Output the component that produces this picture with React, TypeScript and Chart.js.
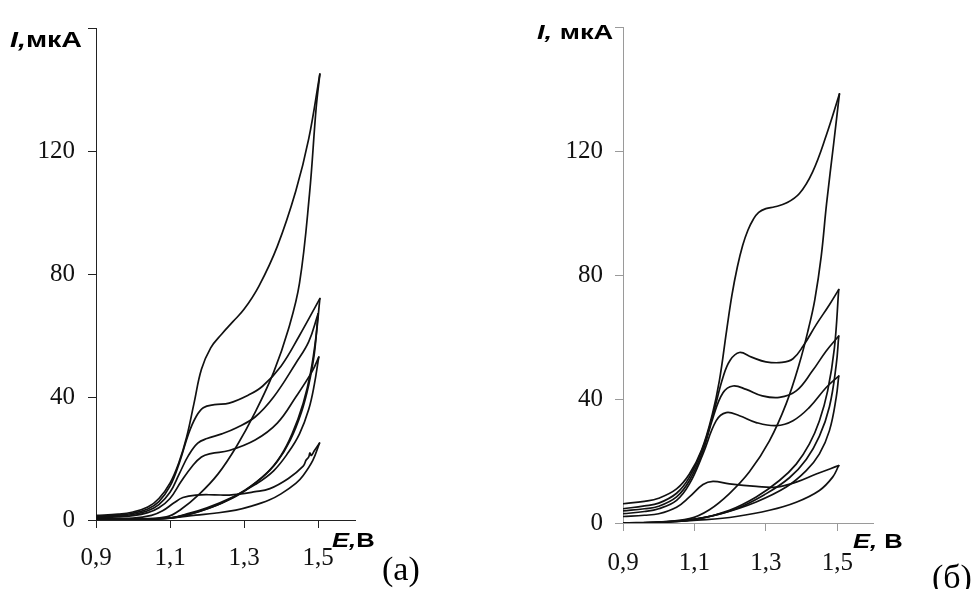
import React, { useEffect, useRef } from 'react';
import { Chart, registerables } from 'chart.js';

Chart.register(...registerables);

type P = [number, number];

// ---------- Panel (а): E (V) vs I (µA) ----------
const aLoop1Fwd: P[] = [[0.9, 1.5], [0.96, 1.9], [1.0, 2.6], [1.04, 4.2], [1.07, 7], [1.1, 12], [1.125, 19], [1.145, 27], [1.165, 38], [1.185, 49], [1.21, 56], [1.24, 60.5], [1.27, 64.5], [1.3, 68.5], [1.34, 76], [1.39, 89], [1.44, 107], [1.475, 124], [1.505, 145]];
const aLoop1Rev: P[] = [[1.505, 145], [1.495, 134], [1.477, 106], [1.45, 77], [1.42, 62], [1.38, 48], [1.33, 35], [1.28, 24], [1.23, 15], [1.18, 8.5], [1.13, 3.5], [1.09, 1], [1.0, 0.3], [0.9, 0.2]];
const aLoop2Fwd: P[] = [[0.9, 1.2], [0.96, 1.6], [1.0, 2.2], [1.04, 3.6], [1.07, 6], [1.1, 11], [1.125, 18.5], [1.15, 28], [1.17, 33.5], [1.19, 36.5], [1.22, 37.5], [1.26, 38], [1.31, 40.5], [1.35, 43.5], [1.4, 50], [1.45, 60], [1.505, 72]];
const aLoop2Rev: P[] = [[1.505, 72], [1.495, 60], [1.48, 48], [1.46, 38], [1.43, 28], [1.4, 21], [1.36, 15], [1.3, 9.5], [1.24, 5.5], [1.18, 2.8], [1.12, 1.0], [1.08, 0.4], [1.0, 0.3], [0.9, 0.3]];
const aLoop3Fwd: P[] = [[0.9, 1.0], [0.96, 1.3], [1.0, 1.8], [1.04, 3], [1.07, 5], [1.1, 9], [1.125, 15], [1.15, 21], [1.175, 25], [1.2, 26.5], [1.24, 28], [1.28, 30], [1.33, 33.5], [1.38, 40], [1.44, 51], [1.475, 58], [1.5, 67]];
const aLoop3Rev: P[] = [[1.5, 67], [1.49, 54], [1.475, 44], [1.455, 35], [1.425, 26], [1.39, 19], [1.35, 14], [1.29, 8.5], [1.23, 5], [1.17, 2.5], [1.11, 0.8], [1.0, 0.3], [0.9, 0.3]];
const aLoop4Fwd: P[] = [[0.9, 0.8], [0.96, 1.0], [1.0, 1.4], [1.04, 2.4], [1.07, 4], [1.1, 7], [1.13, 12.5], [1.16, 17.5], [1.185, 20.5], [1.21, 21.6], [1.26, 22.6], [1.33, 26], [1.39, 31.5], [1.44, 40], [1.485, 48.5], [1.502, 53]];
const aLoop4Rev: P[] = [[1.502, 53], [1.49, 44], [1.475, 36], [1.45, 28], [1.42, 22], [1.38, 16], [1.33, 11.5], [1.27, 7.5], [1.2, 4], [1.14, 1.8], [1.1, 0.6], [1.0, 0.2], [0.9, 0.2]];
const aLoop5Fwd: P[] = [[0.9, 0.4], [1.0, 0.6], [1.05, 1.5], [1.08, 3], [1.11, 5.5], [1.135, 7.3], [1.17, 8.1], [1.22, 8.2], [1.26, 8.1], [1.33, 9.2], [1.37, 10.2], [1.42, 13.5], [1.46, 17.5], [1.468, 19.5], [1.475, 20.5], [1.478, 21.8], [1.482, 21], [1.49, 22.5], [1.504, 25]];
const aLoop5Rev: P[] = [[1.504, 25], [1.486, 19.4], [1.46, 14.5], [1.44, 11.9], [1.4, 8.5], [1.368, 6.5], [1.32, 4.5], [1.278, 3.2], [1.22, 2.2], [1.17, 1.6], [1.098, 0.6], [1.0, 0.3], [0.9, 0.3]];

// ---------- Panel (б) ----------
const bLoop1Fwd: P[] = [[0.9, 6.2], [0.96, 7], [1.0, 8], [1.05, 11], [1.086, 15.8], [1.12, 23.5], [1.15, 35], [1.17, 46], [1.19, 62], [1.205, 73.5], [1.22, 82.5], [1.235, 89.5], [1.25, 94.5], [1.265, 98], [1.28, 100.2], [1.3, 101.4], [1.325, 102], [1.357, 103.2], [1.394, 106.3], [1.431, 113.3], [1.469, 125], [1.506, 138.4]];
const bLoop1Rev: P[] = [[1.506, 138.4], [1.49, 122.5], [1.47, 103], [1.455, 86], [1.437, 72], [1.42, 63], [1.394, 51.5], [1.357, 38.5], [1.31, 26.5], [1.254, 16.5], [1.198, 9.5], [1.142, 4.3], [1.086, 1.4], [1.0, 0.3], [0.9, 0]];
const bLoop2Fwd: P[] = [[0.9, 4.6], [0.96, 5.5], [1.0, 6.4], [1.05, 9.6], [1.086, 14.8], [1.124, 24.4], [1.152, 35], [1.18, 47], [1.2, 52.5], [1.226, 55], [1.26, 53.5], [1.3, 52], [1.345, 51.8], [1.376, 53], [1.404, 57], [1.441, 64], [1.478, 70.4], [1.504, 75.3]];
const bLoop2Rev: P[] = [[1.504, 75.3], [1.492, 56.5], [1.473, 42.6], [1.45, 33], [1.422, 25.5], [1.385, 19], [1.338, 13.7], [1.273, 8.4], [1.198, 4.1], [1.114, 1.4], [1.0, 0.2], [0.9, 0]];
const bLoop3Fwd: P[] = [[0.9, 3.9], [0.96, 4.6], [1.0, 5.4], [1.05, 8.4], [1.086, 13.7], [1.124, 23.3], [1.152, 34], [1.18, 42], [1.208, 44.2], [1.245, 43.1], [1.29, 41], [1.338, 40.5], [1.385, 42.6], [1.43, 49], [1.469, 55.5], [1.504, 60.3]];
const bLoop3Rev: P[] = [[1.504, 60.3], [1.497, 51], [1.478, 37.5], [1.45, 28], [1.413, 20.5], [1.366, 14.6], [1.3, 9.4], [1.217, 4.6], [1.124, 1.7], [1.0, 0.2], [0.9, 0]];
const bLoop4Fwd: P[] = [[0.9, 3.0], [0.96, 3.7], [1.0, 4.6], [1.05, 7.3], [1.086, 12.6], [1.124, 22.3], [1.161, 33], [1.189, 35.6], [1.226, 34.6], [1.273, 32.4], [1.329, 31.4], [1.376, 33], [1.422, 37.3], [1.469, 43.7], [1.504, 47.4]];
const bLoop4Rev: P[] = [[1.504, 47.4], [1.497, 40.5], [1.478, 29.8], [1.45, 22.3], [1.413, 16.9], [1.357, 11.6], [1.273, 6.8], [1.18, 3.2], [1.086, 0.9], [1.0, 0.2], [0.9, 0]];
const bLoop5Fwd: P[] = [[0.9, 2.1], [0.96, 2.5], [1.0, 3.0], [1.05, 5.1], [1.086, 8.4], [1.124, 12.4], [1.152, 13.4], [1.198, 12.6], [1.273, 11.8], [1.329, 11.6], [1.385, 13.2], [1.441, 15.8], [1.504, 18.5]];
const bLoop5Rev: P[] = [[1.504, 18.5], [1.487, 14.8], [1.45, 10.5], [1.385, 6.7], [1.31, 4.1], [1.217, 2.1], [1.133, 1.1], [1.0, 0.3], [0.9, 0]];

// ---------- Axes ----------
const xMin = 0.9;
const xMax = 1.6;
const yMin = 0;
const yMax = 160;
const xTicks = [0.9, 1.1, 1.3, 1.5];
const xTickLabels = ['0,9', '1,1', '1,3', '1,5'];
const yTicks = [0, 40, 80, 120, 160];
const yTickLabels = ['0', '40', '80', '120', ''];

type TitlePart = { text: string; italic: boolean };

interface PanelSpec {
  left: number;
  curves: P[][];
  axisColor: string;
  yAxisWidth: number;
  xAxisHeight: number;
  padTop: number;
  padRight: number;
  yTickPad: number;
  xTickPad: number;
  yTitle: TitlePart[];
  xTitle: TitlePart[];
  tag: string;
  titleSize: number;
  yTitlePos: [number, number];
  xTitlePos: [number, number];
  tagPos: [number, number];
}

const panels: PanelSpec[] = [
  {
    left: 0,
    curves: [aLoop1Fwd, aLoop1Rev, aLoop2Fwd, aLoop2Rev, aLoop3Fwd, aLoop3Rev, aLoop4Fwd, aLoop4Rev, aLoop5Fwd, aLoop5Rev],
    axisColor: '#222',
    yAxisWidth: 96,
    xAxisHeight: 69,
    padTop: 25,
    padRight: 132,
    yTickPad: 13,
    xTickPad: 15,
    yTitle: [{ text: 'I,', italic: true }, { text: 'мкА', italic: false }],
    xTitle: [{ text: 'E,', italic: true }, { text: 'В', italic: false }],
    tag: '(а)',
    titleSize: 22,
    yTitlePos: [-86, 19],
    xTitlePos: [-23, 27],
    tagPos: [27, 60],
  },
  {
    left: 487,
    curves: [bLoop1Fwd, bLoop1Rev, bLoop2Fwd, bLoop2Rev, bLoop3Fwd, bLoop3Rev, bLoop4Fwd, bLoop4Rev, bLoop5Fwd, bLoop5Rev],
    axisColor: '#9a9a9a',
    yAxisWidth: 136,
    xAxisHeight: 66,
    padTop: 25,
    padRight: 101,
    yTickPad: 12,
    xTickPad: 17,
    yTitle: [{ text: 'I, ', italic: true }, { text: 'мкА', italic: false }],
    xTitle: [{ text: 'E, ', italic: true }, { text: 'В', italic: false }],
    tag: '(б)',
    titleSize: 21,
    yTitlePos: [-86, 12],
    xTitlePos: [-20, 25],
    tagPos: [59, 65],
  },
];

function drawTitle(ctx: CanvasRenderingContext2D, parts: TitlePart[], x: number, y: number, size: number, stretch: number) {
  ctx.save();
  ctx.translate(x, y);
  ctx.scale(stretch, 1);
  ctx.textBaseline = 'alphabetic';
  ctx.textAlign = 'left';
  ctx.fillStyle = '#000';
  let cx = 0;
  for (const p of parts) {
    ctx.font = `${p.italic ? 'italic ' : ''}bold ${size}px "Liberation Sans", Arial, sans-serif`;
    ctx.fillText(p.text, cx, 0);
    cx += ctx.measureText(p.text).width;
  }
  ctx.restore();
}

function makeLabelPlugin(spec: PanelSpec) {
  return {
    id: 'panelLabels',
    afterDraw(chart: Chart) {
      const { ctx, chartArea: ca } = chart;
      drawTitle(ctx, spec.yTitle, ca.left + spec.yTitlePos[0], ca.top + spec.yTitlePos[1], spec.titleSize, 1.3);
      drawTitle(ctx, spec.xTitle, ca.right + spec.xTitlePos[0], ca.bottom + spec.xTitlePos[1], 21, 1.22);
      ctx.save();
      ctx.font = '34px "Liberation Serif", "Times New Roman", serif';
      ctx.fillStyle = '#000';
      ctx.textBaseline = 'alphabetic';
      ctx.fillText(spec.tag, ca.right + spec.tagPos[0], ca.bottom + spec.tagPos[1]);
      ctx.restore();
    },
  };
}

function Panel({ spec }: { spec: PanelSpec }) {
  const ref = useRef<HTMLCanvasElement>(null);
  useEffect(() => {
    const tickFont = { family: '"Liberation Serif", "Times New Roman", serif', size: 25 };
    const chart = new Chart(ref.current!, {
      type: 'scatter',
      data: {
        datasets: spec.curves.map((c) => ({
          data: c.map(([x, y]) => ({ x, y })),
          showLine: true,
          borderColor: '#111',
          borderWidth: 1.7,
          pointRadius: 0,
          tension: 0.4,
          fill: false,
          borderCapStyle: 'round',
          borderJoinStyle: 'round',
        })),
      },
      options: {
        responsive: false,
        animation: false,
        events: [],
        layout: { padding: { left: 0, top: spec.padTop, right: spec.padRight, bottom: 0 } },
        plugins: { legend: { display: false }, tooltip: { enabled: false } },
        scales: {
          x: {
            type: 'linear',
            min: xMin,
            max: xMax,
            afterBuildTicks: (s: any) => {
              s.ticks = xTicks.map((v) => ({ value: v }));
            },
            afterFit: (s: any) => {
              s.height = spec.xAxisHeight;
            },
            grid: { display: true, drawOnChartArea: false, drawTicks: true, tickLength: 8, color: spec.axisColor, lineWidth: 1 },
            border: { display: true, color: spec.axisColor, width: 1 },
            ticks: {
              autoSkip: false,
              maxRotation: 0,
              padding: spec.xTickPad,
              color: '#111',
              font: tickFont,
              callback: (_v: any, i: number) => xTickLabels[i],
            },
          },
          y: {
            type: 'linear',
            min: yMin,
            max: yMax,
            afterBuildTicks: (s: any) => {
              s.ticks = yTicks.map((v) => ({ value: v }));
            },
            afterFit: (s: any) => {
              s.width = spec.yAxisWidth;
            },
            grid: { display: true, drawOnChartArea: false, drawTicks: true, tickLength: 8, color: spec.axisColor, lineWidth: 1 },
            border: { display: true, color: spec.axisColor, width: 1 },
            ticks: {
              autoSkip: false,
              padding: spec.yTickPad,
              color: '#111',
              font: tickFont,
              callback: (_v: any, i: number) => yTickLabels[i],
            },
          },
        },
      } as any,
      plugins: [makeLabelPlugin(spec) as any],
    });
    return () => chart.destroy();
  }, [spec]);
  return (
    <canvas
      ref={ref}
      width={487}
      height={589}
      style={{ position: 'absolute', left: spec.left, top: 0, width: 487, height: 589 }}
    />
  );
}

export default function App() {
  useEffect(() => {
    document.body.style.margin = '0';
    document.body.style.background = '#fff';
  }, []);
  return (
    <div style={{ position: 'relative', width: 974, height: 589, background: '#fff', overflow: 'hidden' }}>
      {panels.map((p, i) => (
        <Panel key={i} spec={p} />
      ))}
    </div>
  );
}
